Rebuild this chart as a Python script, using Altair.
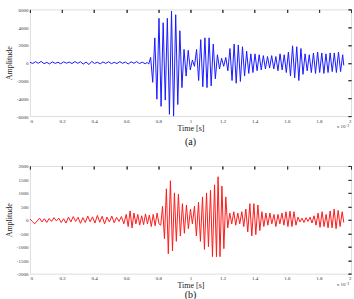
import altair as alt
import pandas as pd

FONT = "Liberation Serif"

# ---- top signal (a): time in units of 1e-3 s, amplitude ----
blue_t = [0.000, 0.018, 0.035, 0.052, 0.070, 0.088, 0.105, 0.122, 0.140, 0.158,
          0.175, 0.192, 0.210, 0.228, 0.245, 0.262, 0.280, 0.298, 0.315, 0.332,
          0.350, 0.368, 0.385, 0.402, 0.420, 0.438, 0.455, 0.472, 0.490, 0.508,
          0.525, 0.542, 0.560, 0.578, 0.595, 0.612, 0.630, 0.648, 0.665, 0.682,
          0.700, 0.718, 0.730, 0.740, 0.752, 0.765, 0.778, 0.791, 0.804, 0.817,
          0.830, 0.843, 0.856, 0.869, 0.882, 0.895, 0.908, 0.921, 0.934, 0.947,
          0.960, 0.973, 0.986, 0.999, 1.012, 1.025, 1.038, 1.051, 1.064, 1.077,
          1.090, 1.103, 1.116, 1.129, 1.142, 1.155, 1.168, 1.181, 1.194, 1.207,
          1.220, 1.233, 1.246, 1.259, 1.272, 1.285, 1.298, 1.311, 1.324, 1.337,
          1.350, 1.363, 1.376, 1.389, 1.402, 1.415, 1.428, 1.441, 1.454, 1.467,
          1.480, 1.493, 1.506, 1.519, 1.532, 1.545, 1.558, 1.571, 1.584, 1.597,
          1.610, 1.623, 1.636, 1.649, 1.662, 1.675, 1.688, 1.701, 1.714, 1.727,
          1.740, 1.753, 1.766, 1.779, 1.792, 1.805, 1.818, 1.831, 1.844, 1.857,
          1.870, 1.883, 1.896, 1.909, 1.922, 1.935, 1.948, 1.955]
blue_a = [50, -80, 120, -60, 150, -100, 40, -130, 90, -70,
          60, -120, 100, -50, 80, -90, 130, -60, 110, -150,
          70, -200, 150, -80, 60, -120, 90, -70, 110, -100,
          50, -90, 120, -60, 80, -140, 100, -60, 130, -90,
          60, -110, 40, -150, 600, -2200, 2800, -4100, 5000, -4900,
          4500, -4200, 5000, -5800, 5800, -6000, 5400, -4700, 3600, -2800,
          1500, -1500, 1400, -800, 300, -400, 1500, -2000, 2600, -2700,
          2800, -2800, 2800, -2600, 2100, -1800, 900, -700, 500, -400,
          600, -900, 1600, -2000, 2100, -2300, 2000, -2100, 1800, -1500,
          1300, -1200, 1000, -1100, 1000, -900, 900, -800, 800, -700,
          700, -600, 800, -700, 700, -900, 1000, -800, 900, -1100,
          1200, -1500, 1900, -1700, 1800, -2000, 1600, -1300, 1000, -900,
          900, -1100, 1100, -1200, 1200, -1100, 1100, -1200, 1000, -1100,
          1100, -1000, 1100, -1100, 1200, -1000, 900, -300]

# ---- bottom signal (b) ----
red_t = [0.000, 0.015, 0.030, 0.045, 0.060, 0.075, 0.090, 0.105, 0.120, 0.135,
         0.150, 0.165, 0.180, 0.195, 0.210, 0.225, 0.240, 0.255, 0.270, 0.285,
         0.300, 0.315, 0.330, 0.345, 0.360, 0.375, 0.390, 0.405, 0.420, 0.435,
         0.450, 0.465, 0.480, 0.495, 0.510, 0.525, 0.540, 0.555, 0.570, 0.585,
         0.600, 0.612, 0.624, 0.636, 0.648, 0.660, 0.672, 0.684, 0.696, 0.708,
         0.720, 0.732, 0.744, 0.756, 0.768, 0.780, 0.792, 0.804, 0.815, 0.826,
         0.838, 0.850, 0.862, 0.875, 0.888, 0.900, 0.912, 0.925, 0.937, 0.950,
         0.962, 0.975, 0.987, 1.000, 1.012, 1.025, 1.037, 1.050, 1.062, 1.075,
         1.087, 1.100, 1.112, 1.125, 1.137, 1.150, 1.162, 1.172, 1.184, 1.196,
         1.208, 1.220, 1.232, 1.245, 1.257, 1.270, 1.282, 1.295, 1.307, 1.320,
         1.332, 1.345, 1.357, 1.370, 1.382, 1.395, 1.407, 1.420, 1.432, 1.445,
         1.457, 1.470, 1.482, 1.495, 1.507, 1.520, 1.532, 1.545, 1.557, 1.570,
         1.582, 1.595, 1.607, 1.620, 1.632, 1.645, 1.657, 1.670, 1.682, 1.695,
         1.707, 1.720, 1.732, 1.745, 1.757, 1.770, 1.782, 1.795, 1.807, 1.820,
         1.832, 1.845, 1.857, 1.870, 1.882, 1.895, 1.907, 1.920, 1.932, 1.945,
         1.955]
red_a = [30, -60, -150, -40, 60, -80, 40, -100, 50, -60,
         80, -40, 60, -100, 40, -120, 100, -80, 120, -60,
         90, -130, 80, -100, 140, -70, 110, -120, 160, -90,
         130, -150, 100, -80, 140, -110, 90, -60, 120, -150,
         200, -250, 330, -300, 250, -150, 200, -200, 150, -180,
         220, -150, 180, -250, 200, -220, 250, -150, -200, 500,
         -700, 1150, -1260, 1450, -1150, 1000, -800, 950, -600, 600,
         -500, 550, -330, 400, -150, 500, -600, 650, -800, 850,
         -1100, 1000, -1000, 1100, -1370, 1300, -1370, 1600, -1370, 1250,
         -1070, 850, -300, 250, -150, 300, -200, 250, -150, 300,
         -250, 400, -450, 600, -600, 600, -550, 550, -400, 300,
         -250, 250, -200, 250, -150, 200, -250, 200, -150, 250,
         -200, 300, -250, 320, -250, 300, -200, 100, -80, 60,
         -100, 80, -60, 100, -120, 150, -200, 250, -280, 300,
         -250, 200, -300, 330, -300, 400, -330, 350, -250, 300,
         -100]

x_ticks = [0, 0.2, 0.4, 0.6, 0.8, 1, 1.2, 1.4, 1.6, 1.8, 2]
top_yticks = [-6000, -4000, -2000, 0, 2000, 4000, 6000]
bot_yticks = [-2000, -1500, -1000, -500, 0, 500, 1000, 1500, 2000]

W = 322


def panel(t, a, color, ydom, yticks, caption, H, cap_offset):
    df = pd.DataFrame({"t": t, "a": a})
    xs = alt.Scale(domain=[0, 2], nice=False, zero=False)
    ys = alt.Scale(domain=ydom, nice=False, zero=False)
    base = alt.Chart(df)

    line = base.mark_line(color=color, strokeWidth=1).encode(
        x=alt.X("t:Q", scale=xs, axis=alt.Axis(
            values=x_ticks, title="Time [s]", ticks=False, domain=False, grid=False,
            labelFont=FONT, labelFontSize=5, labelColor="#333", labelPadding=2,
            labelExpr="datum.value",
            titleFont=FONT, titleFontSize=8, titleFontWeight="normal",
            titleColor="#222", titlePadding=1)),
        y=alt.Y("a:Q", scale=ys, axis=alt.Axis(
            values=yticks, title="Amplitude", ticks=False, domain=False, grid=False,
            labelFont=FONT, labelFontSize=5, labelColor="#333", labelPadding=2,
            labelExpr="datum.value",
            titleFont=FONT, titleFontSize=8, titleFontWeight="normal",
            titleColor="#222", titlePadding=3)),
    )
    tick_in = base.mark_line(opacity=0).encode(
        x=alt.X("t:Q", scale=xs, axis=alt.Axis(
            values=x_ticks, labels=False, title=None, domain=False, grid=False,
            tickSize=3, offset=-3, tickColor="#333")),
        y=alt.Y("a:Q", scale=ys, axis=alt.Axis(
            values=yticks, labels=False, title=None, domain=False, grid=False,
            tickSize=3, offset=-3, tickColor="#333")),
    )
    tick_out = base.mark_line(opacity=0).encode(
        x=alt.X("t:Q", scale=xs, axis=alt.Axis(
            orient="top", values=x_ticks, labels=False, title=None, domain=False,
            grid=False, tickSize=3, offset=-3, tickColor="#333")),
        y=alt.Y("a:Q", scale=ys, axis=alt.Axis(
            orient="right", values=yticks, labels=False, title=None, domain=False,
            grid=False, tickSize=3, offset=-3, tickColor="#333")),
    )
    note = alt.Chart(pd.DataFrame({"s": ["x 10\u207b\u00b3"]})).mark_text(
        font=FONT, fontSize=5, color="#333", align="right", baseline="top"
    ).encode(text="s:N", x=alt.value(W - 2), y=alt.value(H + 8))

    return alt.layer(line, tick_in, tick_out, note).resolve_axis(
        x="independent", y="independent"
    ).properties(
        width=W, height=H,
        title=alt.TitleParams(text=caption, orient="bottom", font=FONT,
                              fontSize=10, fontWeight="normal", color="#111",
                              offset=cap_offset),
    )


top = panel(blue_t, blue_a, "#1a1aff", [-6000, 6000], top_yticks, "(a)", 107, 5)
bot = panel(red_t, red_a, "#ff1a1a", [-2000, 2000], bot_yticks, "(b)", 108, 0)

chart = alt.vconcat(top, bot, spacing=15).properties(
    padding={"left": 4, "top": 6, "right": 2, "bottom": 0}
).configure_view(stroke="#222", strokeWidth=1.2).configure(background="white")

chart.save("out.html", embed_options={"renderer": "svg", "actions": False})
